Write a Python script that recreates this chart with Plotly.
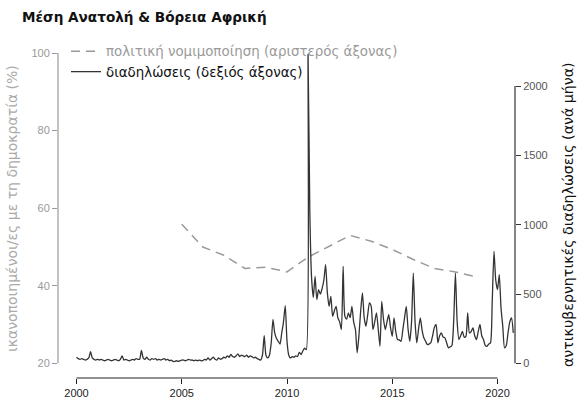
import plotly.graph_objects as go

# yearly satisfaction with democracy (%), left axis
legit_years = [2005, 2006, 2007, 2008, 2009, 2010, 2011, 2012, 2013, 2014, 2015, 2016, 2017, 2018, 2019]
legit_values = [55.9, 50.0, 47.9, 44.5, 44.8, 43.6, 47.4, 50.2, 53.0, 51.5, 49.4, 46.8, 44.5, 43.6, 42.3]

# monthly anti-government protests, right axis, Jan 2000 onwards
protests = [
    45, 35, 30, 35, 30, 25, 30, 40, 85, 40, 30, 25,          # 2000
    30, 25, 30, 25, 20, 25, 30, 25, 20, 25, 30, 25,          # 2001
    20, 30, 55, 25, 30, 25, 20, 25, 30, 25, 35, 30,          # 2002
    30, 95, 40, 30, 45, 30, 25, 35, 30, 35, 25, 30,          # 2003
    25, 30, 35, 25, 30, 20, 25, 15, 15, 20, 15, 20,          # 2004
    25, 25, 20, 25, 30, 25, 25, 20, 25, 20, 25, 20,          # 2005
    20, 30, 25, 40, 25, 35, 45, 30, 25, 40, 30, 35,          # 2006
    45, 40, 55, 45, 65, 50, 45, 55, 70, 50, 60, 55,          # 2007
    50, 60, 45, 55, 50, 40, 45, 35, 30, 25, 60, 200,         # 2008
    60, 40, 60, 150, 317, 220, 180, 160, 140, 220, 300, 417, # 2009
    160, 60, 40, 50, 45, 55, 50, 80, 65, 90, 110, 100,       # 2010
    2230, 1100, 620, 475, 628, 460, 532, 500, 540, 600, 712, 509,  # 2011
    412, 484, 340, 380, 412, 329, 300, 245, 700, 340, 320, 365,    # 2012
    330, 412, 300, 245, 77, 200, 380, 509, 330, 268, 350, 437,     # 2013
    412, 245, 300, 365, 250, 124, 448, 320, 245, 300, 352, 260,    # 2014
    196, 329, 230, 173, 170, 160, 240, 330, 412, 250, 160, 300,    # 2015
    652, 300, 149, 250, 329, 240, 185, 160, 137, 140, 150, 200,    # 2016
    260, 281, 149, 200, 221, 190, 185, 150, 113, 120, 130, 300,    # 2017
    652, 300, 173, 200, 232, 190, 196, 365, 221, 230, 256, 200,    # 2018
    173, 230, 281, 200, 173, 130, 124, 140, 149, 450, 808, 600,    # 2019
    532, 640, 400, 268, 113, 130, 221, 300, 329, 221,              # 2020
]
months = [2000 + i / 12 for i in range(len(protests))]

year_ticks = [2000, 2005, 2010, 2015, 2020]
left_ticks = [20, 40, 60, 80, 100]
right_ticks = [0, 500, 1000, 1500, 2000]

text_font = "DejaVu Sans"
num_font = "Liberation Sans"

W, H = 579, 404
L, R, T, B = 58, 64, 30, 20          # plot area in pixels: x 58..515, y 30..384
pw, ph = W - L - R, H - T - B


def py(y_px):
    return (H - B - y_px) / ph


def px(x_px):
    return (x_px - L) / pw


fig = go.Figure()

fig.add_trace(go.Scatter(
    x=legit_years, y=legit_values,
    name="<span style='color:#9a9a9a'>πολιτική νομιμοποίηση (αριστερός άξονας)</span>",
    mode="lines",
    line=dict(color="#9a9a9a", width=1.5, dash="9px,6px"),
    yaxis="y",
))

fig.add_trace(go.Scatter(
    x=months, y=protests,
    name="<span style='color:#111111'>διαδηλώσεις (δεξιός άξονας)</span>",
    mode="lines",
    line=dict(color="#333333", width=1.3, shape="spline", smoothing=0.6),
    yaxis="y2",
))

fig.update_layout(
    width=W, height=H,
    margin=dict(l=L, r=R, t=T, b=B),
    paper_bgcolor="white", plot_bgcolor="white",
    title=dict(
        text="<b>Μέση Ανατολή & Βόρεια Αφρική</b>",
        x=22 / W, y=1 - 17 / H, xanchor="left", yanchor="middle",
        font=dict(family=text_font, size=13.6, color="#111111"),
    ),
    showlegend=True,
    legend=dict(
        x=px(66), y=py(36), xanchor="left", yanchor="top",
        bgcolor="rgba(0,0,0,0)",
        font=dict(family=text_font, size=13.4),
        tracegroupgap=0,
    ),
    xaxis=dict(
        range=[1999.121, 2020.831],
        anchor="free", position=py(378), automargin=False,
        tickvals=year_ticks, ticks="outside", ticklen=5, tickcolor="#222222",
        tickfont=dict(family=num_font, size=11, color="#222222"),
        showgrid=False, zeroline=False, showline=False,
    ),
    yaxis=dict(
        range=[20, 100], domain=[py(363.5), py(53)], automargin=False,
        tickvals=left_ticks, ticks="outside", ticklen=5, tickcolor="#999999",
        tickfont=dict(family=num_font, size=11, color="#999999"),
        showgrid=False, zeroline=False, showline=False,
    ),
    yaxis2=dict(
        range=[0, 2238], overlaying="y", side="right", anchor="x", automargin=False,
        tickvals=right_ticks, ticks="outside", ticklen=5, tickcolor="#333333",
        tickfont=dict(family=num_font, size=11, color="#555555"),
        showgrid=False, zeroline=False, showline=False,
    ),
)

# detached R-style axis lines
fig.add_shape(type="line", xref="x", yref="paper", x0=2000, x1=2020, y0=py(378), y1=py(378),
              line=dict(color="#222222", width=1.2))
fig.add_shape(type="line", xref="paper", yref="y", x0=0, x1=0, y0=20, y1=100,
              line=dict(color="#999999", width=1.2))
fig.add_shape(type="line", xref="paper", yref="y2", x0=1, x1=1, y0=0, y1=2000,
              line=dict(color="#333333", width=1.2))

fig.add_annotation(
    text="ικανοποιημένοι/ες με τη δημοκρατία (%)",
    xref="paper", yref="paper", x=px(12), y=py(209),
    xanchor="center", yanchor="middle", textangle=-90, showarrow=False,
    font=dict(family=text_font, size=14, color="#aaaaaa"),
)
fig.add_annotation(
    text="αντικυβερνητικές διαδηλώσεις (ανά μήνα)",
    xref="paper", yref="paper", x=px(568), y=py(215),
    xanchor="center", yanchor="middle", textangle=-90, showarrow=False,
    font=dict(family=text_font, size=14.2, color="#111111"),
)

# page body has a default 8px margin; drop it so the figure sits at the corner
fig.write_html("out.html", config={"displayModeBar": False},
               post_script="document.body.style.margin='0';")
